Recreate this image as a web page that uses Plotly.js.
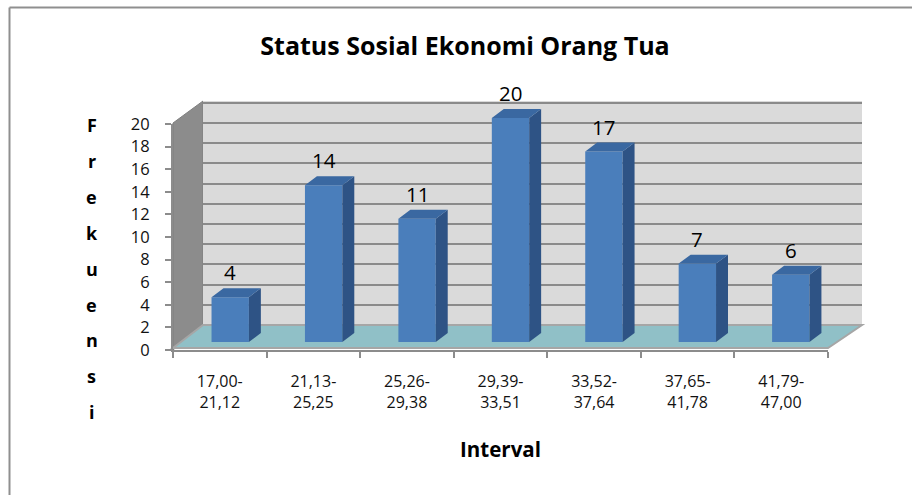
<!DOCTYPE html>
<html>
<head>
<meta charset="utf-8">
<script src="https://cdn.plot.ly/plotly-3.0.1.min.js"></script>
<style>html,body{margin:0;padding:0;background:#fff;}#chart{width:912px;height:495px;}</style>
</head>
<body>
<div id="chart"></div>
<script>
// ---- data ----
const categories = ["17,00-<br>21,12", "21,13-<br>25,25", "25,26-<br>29,38", "29,39-<br>33,51", "33,52-<br>37,64", "37,65-<br>41,78", "41,79-<br>47,00"];
const frekuensi = [4, 14, 11, 20, 17, 7, 6];
const chartTitle = "Status Sosial Ekonomi Orang Tua";
const xTitle = "Interval";
const yTitle = "Frekuensi";

// ---- geometry helpers (pixel -> paper) ----
const W = 912, H = 495;
const px = v => v / W;
const py = v => 1 - v / H;

// bar 3D depth in bar-axis units
const BW = 0.4, DX = 0.128, DY = 0.8;
const idx = frekuensi.map((v, i) => i);

const sideX = [], sideY = [], topX = [], topY = [];
frekuensi.forEach((v, i) => {
  const r = i + BW / 2, l = i - BW / 2;
  sideX.push(r, r, r + DX, r + DX, r, null);
  sideY.push(0, v, v + DY, DY, 0, null);
  topX.push(l, r, r + DX, l + DX, l, null);
  topY.push(v, v, v + DY, v + DY, v, null);
});

const FONT = "'Open Sans', Lato, sans-serif";

const traces = [
  {type: "scatter", mode: "markers", x: categories, y: frekuensi, xaxis: "x", yaxis: "y",
   marker: {opacity: 0}, hoverinfo: "skip", showlegend: false},
  {type: "scatter", mode: "markers", x: [0], y: [0], xaxis: "x2", yaxis: "y2",
   marker: {opacity: 0}, hoverinfo: "skip", showlegend: false},
  {type: "bar", x: idx, y: frekuensi, xaxis: "x3", yaxis: "y3", width: BW,
   marker: {color: "#4A7EBB", line: {width: 0}}, hoverinfo: "y", showlegend: false},
  {type: "scatter", mode: "lines", x: sideX, y: sideY, xaxis: "x3", yaxis: "y3",
   fill: "toself", fillcolor: "#2E5385", line: {width: 0, color: "#2E5385"},
   hoverinfo: "skip", showlegend: false, connectgaps: false},
  {type: "scatter", mode: "lines", x: topX, y: topY, xaxis: "x3", yaxis: "y3",
   fill: "toself", fillcolor: "#3A68A1", line: {width: 0, color: "#3A68A1"},
   hoverinfo: "skip", showlegend: false, connectgaps: false}
];

const annotations = frekuensi.map((v, i) => ({
  xref: "x3", yref: "y3", x: i, y: v, text: String(v), showarrow: false,
  yanchor: "bottom", xanchor: "center", yshift: 9,
  font: {family: FONT, size: 20.5, color: "#000"}
}));
yTitle.split("").forEach((ch, k) => {
  annotations.push({
    xref: "paper", yref: "paper", x: px(91.5), y: py(125.5 + k * 35.8), text: ch,
    showarrow: false, xanchor: "center", yanchor: "middle",
    font: {family: FONT, size: 18, color: "#000", weight: 700}
  });
});

const pathP = pts => "M " + pts.map(p => px(p[0]) + "," + py(p[1])).join(" L ") + " Z";

const shapes = [
  {type: "path", xref: "paper", yref: "paper", layer: "below",
   path: pathP([[173, 350], [173, 123], [203, 101], [203, 325]]),
   fillcolor: "#8C8C8C", line: {width: 1, color: "#7F7F7F"}},
  {type: "rect", xref: "paper", yref: "paper", layer: "below",
   x0: px(203), x1: px(862), y0: py(325), y1: py(101),
   fillcolor: "#DADADA", line: {width: 0}},
  {type: "path", xref: "paper", yref: "paper", layer: "below",
   path: pathP([[173, 348], [828, 348], [862, 325], [203, 325]]),
   fillcolor: "#90C0C7", line: {width: 2, color: "#A6A6A6"}},
  {type: "line", xref: "paper", yref: "paper", x0: px(9.5), x1: 1, y0: py(7.5), y1: py(7.5),
   line: {color: "#8F8F8F", width: 2}},
  {type: "line", xref: "paper", yref: "paper", x0: px(9.5), x1: px(9.5), y0: py(7.5), y1: 0,
   line: {color: "#8F8F8F", width: 2}}
];

const layout = {
  width: W, height: H,
  margin: {l: 0, r: 0, t: 0, b: 0},
  paper_bgcolor: "#fff",
  plot_bgcolor: "rgba(0,0,0,0)",
  showlegend: false,
  title: {text: chartTitle, x: px(465), xref: "paper", xanchor: "center",
          y: py(46), yref: "paper", yanchor: "middle",
          font: {family: FONT, size: 25, color: "#000", weight: 700}},
  xaxis: {domain: [px(173), px(828)], anchor: "y", type: "category",
          categoryarray: categories, range: [-0.5, 6.5], fixedrange: true,
          tickson: "boundaries", ticks: "outside", ticklen: 6, tickcolor: "#8C8C8C", tickwidth: 2,
          showline: true, linecolor: "#8C8C8C", linewidth: 2, showgrid: false, zeroline: false,
          ticklabelstandoff: 16,
          tickfont: {family: FONT, size: 16, color: "#111"},
          title: {text: xTitle, standoff: 31, font: {family: FONT, size: 20.5, color: "#000", weight: 700}}},
  yaxis: {domain: [py(350), py(124)], anchor: "x", range: [0, 20], dtick: 2, fixedrange: true,
          ticks: "outside", ticklen: 6, tickcolor: "#8C8C8C", tickwidth: 2,
          showline: true, linecolor: "#8C8C8C", linewidth: 2, showgrid: false, zeroline: false,
          ticklabelstandoff: 12,
          tickfont: {family: FONT, size: 16.5, color: "#111"}},
  xaxis2: {domain: [px(203), px(862)], anchor: "y2", range: [0, 1], visible: false, fixedrange: true},
  yaxis2: {domain: [py(325), py(101)], anchor: "x2", range: [0, 22.18], dtick: 2, tick0: 0,
           showticklabels: false, ticks: "", showline: false, zeroline: false, fixedrange: true,
           showgrid: true, gridcolor: "#8A8A8A", gridwidth: 2},
  xaxis3: {domain: [px(183.5), px(837.5)], anchor: "y3", range: [-0.5, 6.5], visible: false, fixedrange: true},
  yaxis3: {domain: [py(342), py(95)], anchor: "x3", range: [0, 22.05], visible: false, fixedrange: true},
  annotations: annotations,
  shapes: shapes
};

Plotly.newPlot("chart", traces, layout, {displayModeBar: false, staticPlot: true});
</script>
</body>
</html>
